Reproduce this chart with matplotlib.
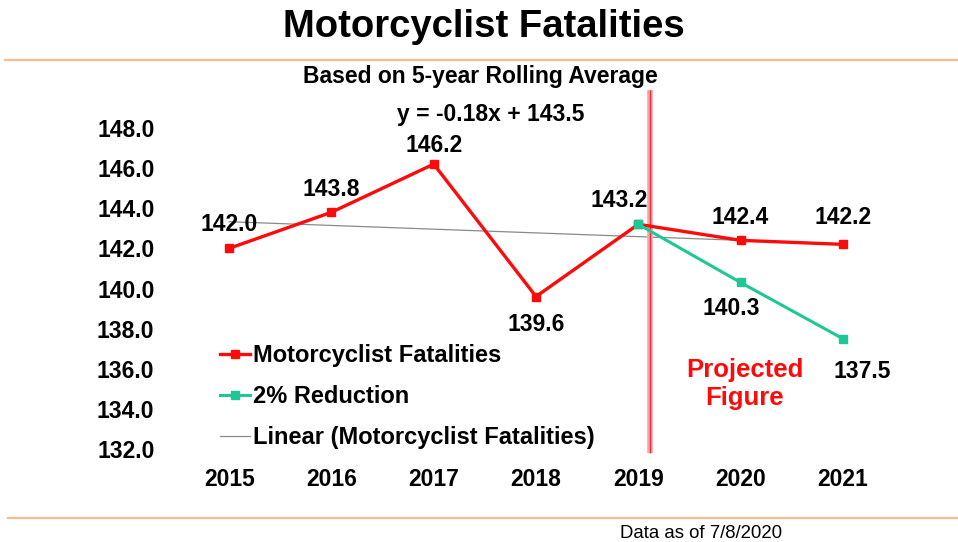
import numpy as np
import matplotlib
matplotlib.use("Agg")
import matplotlib.pyplot as plt
from matplotlib.lines import Line2D

plt.rcParams["font.family"] = ["Liberation Sans", "DejaVu Sans"]

# chart data
years = ["2015", "2016", "2017", "2018", "2019", "2020", "2021"]
fatalities = [142.0, 143.8, 146.2, 139.6, 143.2, 142.4, 142.2]
reduction_years = ["2019", "2020", "2021"]
reduction = [143.2, 140.3, 137.5]
y_ticks = [132.0, 134.0, 136.0, 138.0, 140.0, 142.0, 144.0, 146.0, 148.0]

RED = "#FF0A0A"
TEAL = "#1EC896"
ORANGE = "#F9BC90"

W, H = 958, 542
fig = plt.figure(figsize=(W / 100, H / 100), dpi=100)

def fx(px):
    return px / W

def fy(py):
    return 1 - py / H

ax = fig.add_axes([fx(178), fy(449), fx(894) - fx(178), fy(128) - fy(449)])
x = np.arange(len(years))
xr = np.array([years.index(y) for y in reduction_years])

# excel style linear trend over the whole series (x = 1..7)
slope, icpt = np.polyfit(x + 1, fatalities, 1)
ax.plot(x, slope * (x + 1) + icpt, color="#8a8a8a", lw=0.9, zorder=1)

ax.plot(x, fatalities, color=RED, lw=2.4, marker="s", ms=6, zorder=3)
ax.plot(xr, reduction, color=TEAL, lw=2.2, marker="s", ms=6, zorder=4)

ax.set_xlim(-0.5, len(years) - 0.5)
ax.set_ylim(132, 148)
ax.set_yticks(y_ticks)
ax.set_yticklabels([f"{v:.1f}" for v in y_ticks])
ax.set_xticks(x)
ax.set_xticklabels(years)
ax.tick_params(length=0, labelsize=16.5, pad=17)
ax.tick_params(axis="x", pad=14)
for lbl in ax.get_xticklabels() + ax.get_yticklabels():
    lbl.set_fontweight("bold")
for s in ax.spines.values():
    s.set_visible(False)
ax.patch.set_alpha(0)

# value labels, offsets in pixels (dx, dy with y downwards)
red_offsets = [(0, -24), (0, -23), (0, -19), (0, 28), (-19, -24), (0, -23), (0, -27)]
for i, (v, (dx, dy)) in enumerate(zip(fatalities, red_offsets)):
    ax.annotate(f"{v:.1f}", (x[i], v), xytext=(dx * 0.72, -dy * 0.72),
                textcoords="offset points", ha="center", va="center",
                fontsize=16.5, fontweight="bold", zorder=5)
teal_offsets = [None, (-9, 26), (19, 33)]
for i, v, off in zip(xr, reduction, teal_offsets):
    if off is None:
        continue
    ax.annotate(f"{v:.1f}", (i, v), xytext=(off[0] * 0.72, -off[1] * 0.72),
                textcoords="offset points", ha="center", va="center",
                fontsize=16.5, fontweight="bold", zorder=5)

# projection divider
div_x = (649.5 - 229) / 102.3
ax.vlines(div_x, 131.8, 149.9, color="#F7A3A6", lw=4.0, clip_on=False, zorder=2)
ax.vlines(div_x, 131.8, 149.9, color="#E8303A", lw=1.0, clip_on=False, zorder=2)

handles = [
    Line2D([], [], color=RED, lw=2.4, marker="s", ms=6),
    Line2D([], [], color=TEAL, lw=2.2, marker="s", ms=6),
    Line2D([], [], color="#8a8a8a", lw=0.9),
]
labels = ["Motorcyclist Fatalities", "2% Reduction", "Linear (Motorcyclist Fatalities)"]
fig.legend(handles, labels, loc="upper left", bbox_to_anchor=(fx(220), fy(344)),
           frameon=False, borderpad=0, borderaxespad=0, handlelength=1.25,
           handletextpad=0.15, labelspacing=0.77,
           prop={"size": 17, "weight": "bold"})

fig.text(fx(484), fy(27), "Motorcyclist Fatalities", ha="center", va="center",
         fontsize=27.5, fontweight="bold")
fig.text(fx(480), fy(77), "Based on 5-year Rolling Average", ha="center",
         va="center", fontsize=16.5, fontweight="bold")
fig.text(fx(491), fy(114), "y = -0.18x + 143.5", ha="center", va="center",
         fontsize=16.5, fontweight="bold")
fig.text(fx(745), fy(384), "Projected\nFigure", ha="center", va="center",
         color=RED, fontsize=18.5, fontweight="bold", linespacing=1.2)
fig.text(fx(701), fy(533), "Data as of 7/8/2020", ha="center", va="center",
         fontsize=13.4)

fig.add_artist(Line2D([fx(5), 1], [fy(60), fy(60)], color=ORANGE, lw=1.6))
fig.add_artist(Line2D([fx(8), 1], [fy(518), fy(518)], color=ORANGE, lw=1.6))

fig.savefig("out.png", dpi=100)
